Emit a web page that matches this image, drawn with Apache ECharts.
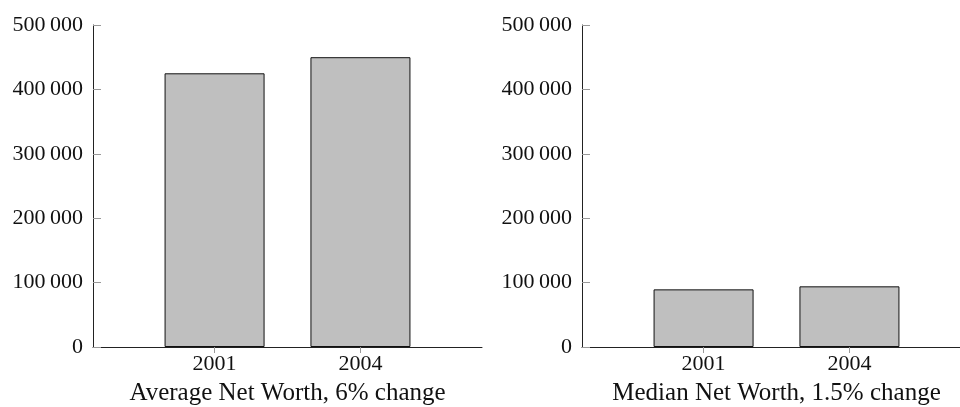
<!DOCTYPE html>
<html>
<head>
<meta charset="utf-8">
<script src="https://cdn.jsdelivr.net/npm/echarts@6/dist/echarts.min.js"></script>
<style>html,body{margin:0;padding:0;background:#fff;}#c{width:960px;height:407px;}</style>
</head>
<body>
<div id="c"></div>
<script>
const years = [2001, 2004];
const averageNetWorth = [425000, 450000];
const medianNetWorth = [89500, 94200];
const titles = ['Average Net Worth, 6% change', 'Median Net Worth, 1.5% change'];
const yTicks = [0, 100000, 200000, 300000, 400000, 500000];

const FONT = 'Liberation Serif';
const chart = echarts.init(document.getElementById('c'), null, {renderer: 'canvas'});

function fmt(v) {
  return String(v).replace(/\B(?=(\d{3})+(?!\d))/g, '\u2009');
}

function xAxisFor(i) {
  return {
    type: 'value', gridIndex: i, min: 1998.5, max: 2006.5,
    splitLine: {show: false},
    axisLine: {show: true, onZero: false, lineStyle: {color: '#222', width: 1}},
    axisTick: {show: true, inside: false, length: 6, customValues: years, lineStyle: {color: '#999'}},
    axisLabel: {show: true, customValues: years, margin: 6, color: '#111', fontFamily: FONT, fontSize: 22,
      formatter: v => String(v)},
    name: titles[i], nameLocation: 'middle', nameGap: 34,
    nameTextStyle: {color: '#111', fontFamily: FONT, fontSize: 25}
  };
}
function yAxisFor(i) {
  return {
    type: 'value', gridIndex: i, min: 0, max: 500000, interval: 100000,
    splitLine: {show: false},
    axisLine: {show: true, lineStyle: {color: '#222', width: 1}},
    axisTick: {show: true, inside: true, length: 8, lineStyle: {color: '#999'}},
    axisLabel: {margin: 10, color: '#111', fontFamily: FONT, fontSize: 22, formatter: fmt}
  };
}
function barSeries(i, vals) {
  return {
    type: 'bar', xAxisIndex: i, yAxisIndex: i, barWidth: 100,
    data: years.map((y, k) => [y, vals[k]]),
    itemStyle: {color: '#bfbfbf', borderColor: '#111', borderWidth: 1},
    silent: true
  };
}

chart.setOption({
  animation: false,
  backgroundColor: '#fff',
  grid: [
    {left: 93, top: 25, width: 389, height: 322, containLabel: false, outerBoundsMode: 'none'},
    {left: 582, top: 25, width: 389, height: 322, containLabel: false, outerBoundsMode: 'none'}
  ],
  xAxis: [xAxisFor(0), xAxisFor(1)],
  yAxis: [yAxisFor(0), yAxisFor(1)],
  series: [barSeries(0, averageNetWorth), barSeries(1, medianNetWorth)]
});
</script>
</body>
</html>
